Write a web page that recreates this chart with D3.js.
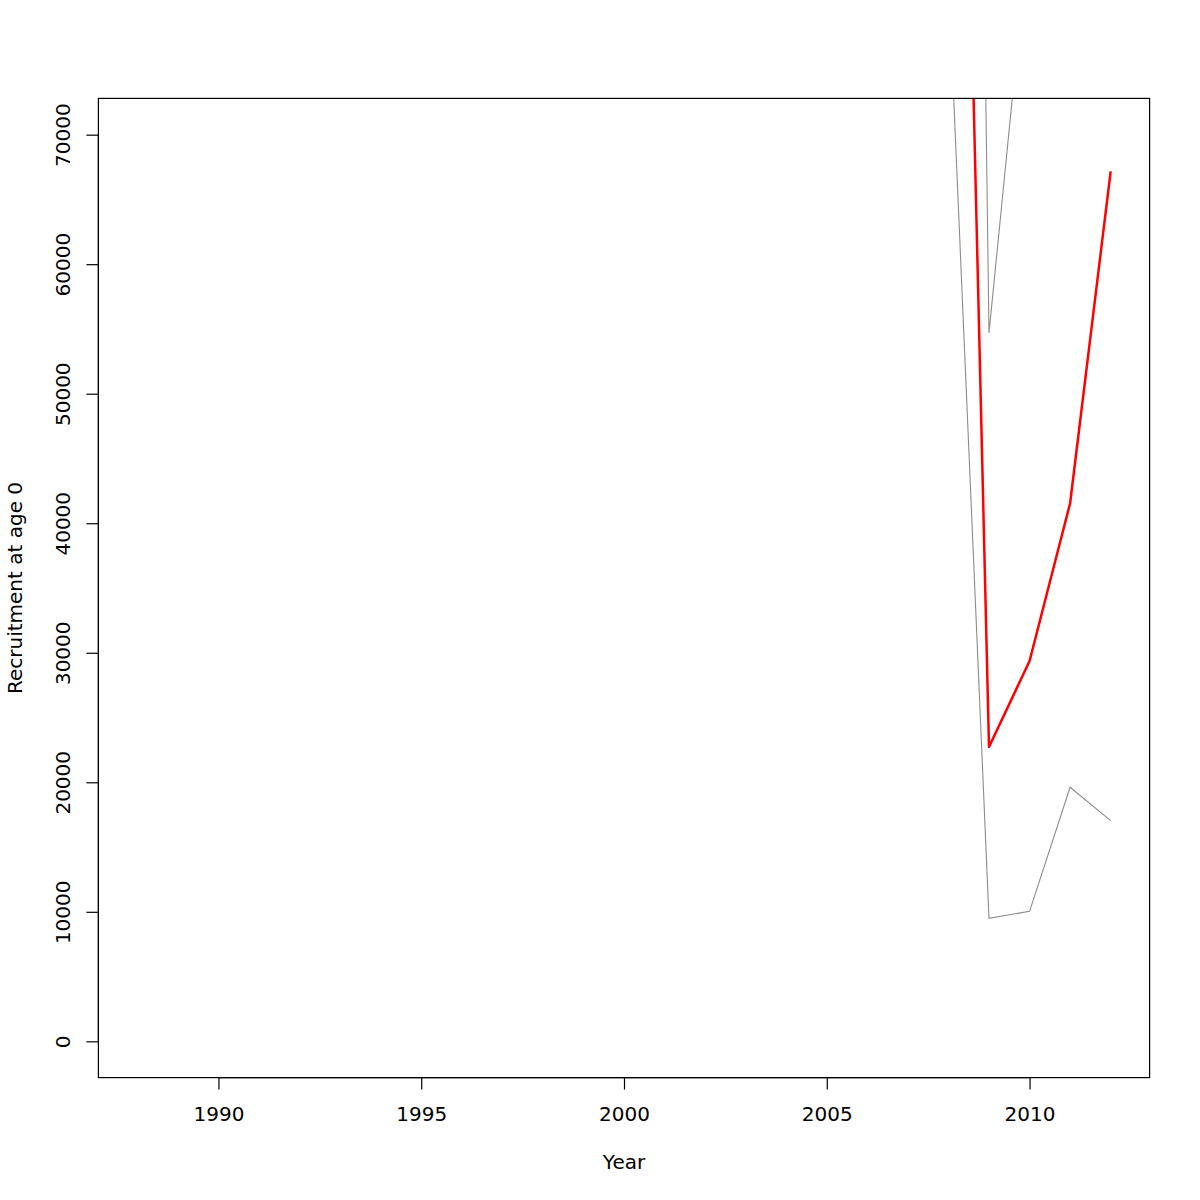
<!DOCTYPE html>
<html>
<head>
<meta charset="utf-8">
<script src="https://cdn.jsdelivr.net/npm/d3@7"></script>
<style>
  body { margin: 0; background: #fff; }
  svg { display: block; }
  text { font-family: "DejaVu Sans", sans-serif; font-size: 20px; fill: #000; }
</style>
</head>
<body>
<svg id="chart" width="1200" height="1200"></svg>
<script>
// ---- data (values read /; pre-2009 values lie above the visible range) ----
const years = [1988,1989,1990,1991,1992,1993,1994,1995,1996,1997,1998,1999,2000,
               2001,2002,2003,2004,2005,2006,2007,2008,2009,2010,2011,2012];
const recruitment = [310000,280000,350000,260000,300000,240000,270000,330000,250000,220000,260000,290000,230000,
                     210000,250000,200000,230000,190000,210000,180000,154500,22725,29367,41545,67160];
const lowerCI = [180000,160000,200000,150000,170000,140000,155000,190000,145000,130000,150000,165000,135000,
                 120000,145000,115000,130000,110000,120000,100000,82260,9498,10039,19614,17043];
const upperCI = [530000,490000,610000,450000,530000,410000,470000,570000,430000,370000,450000,510000,390000,
                 370000,430000,350000,410000,330000,370000,320000,285000,54695,86237,88000,264600];
const xTicks = [1990,1995,2000,2005,2010];
const yTicks = [0,10000,20000,30000,40000,50000,60000,70000];
const xLabel = "Year";
const yLabel = "Recruitment at age 0";

// ---- layout (R base graphics style) ----
const W = 1200, H = 1200;
const margin = {top: 98.4, right: 50.4, bottom: 122.4, left: 98.4};
const lineH = 24;
const svg = d3.select("#chart");

const xMin = 1988, xMax = 2012, yMin = 0, yMax = 70000;
const xPad = (xMax - xMin) * 0.04, yPad = (yMax - yMin) * 0.04;
const x = d3.scaleLinear().domain([xMin - xPad, xMax + xPad])
  .range([margin.left, W - margin.right]);
const y = d3.scaleLinear().domain([yMin - yPad, yMax + yPad])
  .range([H - margin.bottom, margin.top]);

svg.append("defs").append("clipPath").attr("id", "clip")
  .append("rect")
  .attr("x", margin.left).attr("y", margin.top)
  .attr("width", W - margin.left - margin.right)
  .attr("height", H - margin.top - margin.bottom);

const data = years.map((yr, i) => ({yr, r: recruitment[i], lo: lowerCI[i], hi: upperCI[i]}));
const plot = svg.append("g").attr("clip-path", "url(#clip)");

const lineOf = key => d3.line().x(d => x(d.yr)).y(d => y(d[key]));

plot.append("path").datum(data).attr("d", lineOf("lo"))
  .attr("fill", "none").attr("stroke", "#8c8c8c").attr("stroke-width", 1.1);
plot.append("path").datum(data).attr("d", lineOf("hi"))
  .attr("fill", "none").attr("stroke", "#8c8c8c").attr("stroke-width", 1.1);
plot.append("path").datum(data).attr("d", lineOf("r"))
  .attr("fill", "none").attr("stroke", "#ff0000").attr("stroke-width", 2.5)
  .attr("stroke-linejoin", "round");

// box
svg.append("rect")
  .attr("x", margin.left).attr("y", margin.top)
  .attr("width", W - margin.left - margin.right)
  .attr("height", H - margin.top - margin.bottom)
  .attr("fill", "none").attr("stroke", "#000").attr("stroke-width", 1.2);

// x axis
const xAxis = d3.axisBottom(x).tickValues(xTicks).tickSize(12).tickFormat(d3.format("d"));
const gx = svg.append("g").attr("transform", `translate(0,${H - margin.bottom})`).call(xAxis);
gx.select(".domain").attr("d", `M${x(xTicks[0])},0H${x(xTicks[xTicks.length-1])}`)
  .attr("stroke", "#000").attr("stroke-width", 1.2);
gx.selectAll(".tick line").attr("stroke", "#000").attr("stroke-width", 1.2);
gx.selectAll(".tick text").attr("y", lineH * 1.8).attr("dy", null)
  .style("font-size", "20px").style("font-family", "DejaVu Sans, sans-serif").attr("fill", "#000");

// y axis
const yAxis = d3.axisLeft(y).tickValues(yTicks).tickSize(12).tickFormat(d3.format("d"));
const gy = svg.append("g").attr("transform", `translate(${margin.left},0)`).call(yAxis);
gy.select(".domain").attr("d", `M0,${y(yTicks[0])}V${y(yTicks[yTicks.length-1])}`)
  .attr("stroke", "#000").attr("stroke-width", 1.2);
gy.selectAll(".tick line").attr("stroke", "#000").attr("stroke-width", 1.2);
gy.selectAll(".tick text")
  .attr("x", null).attr("dy", null)
  .attr("transform", `translate(${-lineH * 1.2},0) rotate(-90)`)
  .attr("text-anchor", "middle")
  .style("font-size", "20px").style("font-family", "DejaVu Sans, sans-serif").attr("fill", "#000");

// axis titles
svg.append("text")
  .attr("x", (margin.left + W - margin.right) / 2)
  .attr("y", H - margin.bottom + lineH * 3.8)
  .attr("text-anchor", "middle").text(xLabel);
svg.append("text")
  .attr("transform", `translate(${margin.left - lineH * 3.2},${(margin.top + H - margin.bottom) / 2}) rotate(-90)`)
  .attr("text-anchor", "middle").text(yLabel);
</script>
</body>
</html>
